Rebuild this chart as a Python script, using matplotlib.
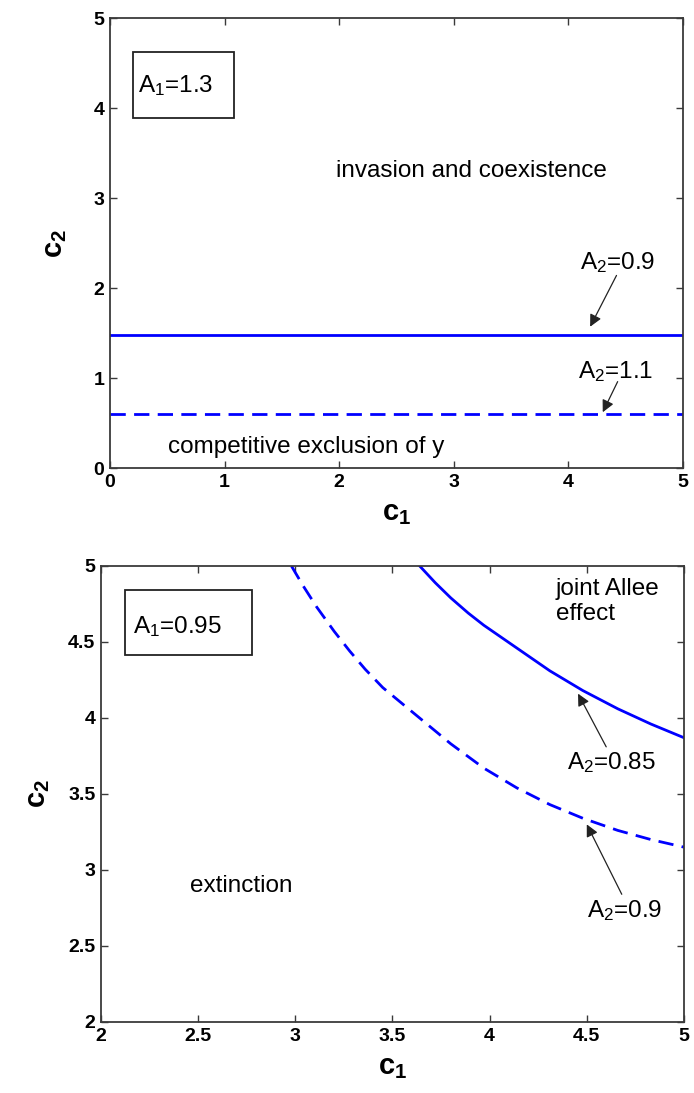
import numpy as np
import matplotlib
matplotlib.use('Agg')
import matplotlib.pyplot as plt
from matplotlib.patches import Rectangle

plt.rcParams['font.family'] = ['Liberation Sans', 'DejaVu Sans']
plt.rcParams['mathtext.fontset'] = 'custom'
plt.rcParams['mathtext.rm'] = 'Liberation Sans'
plt.rcParams['mathtext.it'] = 'Liberation Sans:italic'
plt.rcParams['mathtext.bf'] = 'Liberation Sans:bold'

# upper panel, A1 = 1.3: thresholds are flat in c1
top_c1 = [0.0, 5.0]
top_a2_09 = [1.48, 1.48]
top_a2_11 = [0.60, 0.60]

# lower panel, A1 = 0.95: boundary curves read along c1
low_a2_085_c1 = [3.64, 3.72, 3.80, 3.89, 3.97, 4.14, 4.31, 4.48, 4.66, 4.83, 5.0]
low_a2_085_c2 = [5.00, 4.89, 4.79, 4.69, 4.61, 4.46, 4.31, 4.18, 4.06, 3.96, 3.87]
low_a2_09_c1 = [2.98, 3.04, 3.11, 3.20, 3.28, 3.36, 3.45, 3.63, 3.80, 3.97,
                4.14, 4.31, 4.48, 4.66, 4.83, 5.0]
low_a2_09_c2 = [5.00, 4.87, 4.73, 4.57, 4.44, 4.32, 4.20, 4.01, 3.83, 3.67,
                3.54, 3.43, 3.34, 3.26, 3.20, 3.15]

top_ticks = [0, 1, 2, 3, 4, 5]
low_ticks = [2, 2.5, 3, 3.5, 4, 4.5, 5]
low_ticklabels = ['2', '2.5', '3', '3.5', '4', '4.5', '5']

blue = '#0000ff'
spine_col = '#3a3a3a'
txt_size = 17.5
arrow_kw = dict(arrowstyle='-|>', color='#222222', lw=0.9,
                mutation_scale=18, shrinkA=0, shrinkB=0)

fig = plt.figure(figsize=(6.94, 10.93), dpi=100)
ax1 = fig.add_axes([0.1585, 0.5718, 0.8256, 0.4117])
ax2 = fig.add_axes([0.1455, 0.0650, 0.8400, 0.4172])


def style_axes(ax):
    for s in ax.spines.values():
        s.set_color(spine_col)
        s.set_linewidth(1.3)
    ax.tick_params(direction='in', length=5, width=1, color=spine_col,
                   top=True, right=True, labelsize=14, pad=4)
    for lab in ax.get_xticklabels() + ax.get_yticklabels():
        lab.set_fontweight('bold')
    ax.set_xlabel(r'$\mathbf{c}_{\mathbf{1}}$', fontsize=21, labelpad=6)


# ---- upper panel
ax1.plot(top_c1, top_a2_09, color=blue, lw=2)
ax1.plot(top_c1, top_a2_11, color=blue, lw=2, dashes=(5.5, 3))
ax1.set_xlim(0, 5)
ax1.set_ylim(0, 5)
ax1.set_xticks(top_ticks)
ax1.set_yticks(top_ticks)
style_axes(ax1)
ax1.set_ylabel(r'$\mathbf{c}_{\mathbf{2}}$', fontsize=21, labelpad=18)

ax1.add_patch(Rectangle((0.040, 0.778), 0.176, 0.146, transform=ax1.transAxes,
                        fill=False, ec='#222222', lw=1.3))
ax1.text(0.049, 0.849, 'A$_1$=1.3', transform=ax1.transAxes,
         fontsize=txt_size, va='center', ha='left')
ax1.text(1.97, 3.23, 'invasion and coexistence', fontsize=txt_size, va='baseline')
ax1.text(0.51, 0.17, 'competitive exclusion of y', fontsize=txt_size, va='baseline')
ax1.text(4.10, 2.21, 'A$_2$=0.9', fontsize=txt_size, va='baseline')
ax1.text(4.08, 1.00, 'A$_2$=1.1', fontsize=txt_size, va='baseline')
ax1.annotate('', xy=(4.19, 1.57), xytext=(4.42, 2.14), arrowprops=arrow_kw)
ax1.annotate('', xy=(4.30, 0.62), xytext=(4.43, 0.96), arrowprops=arrow_kw)

# ---- lower panel
ax2.plot(low_a2_085_c1, low_a2_085_c2, color=blue, lw=2)
ax2.plot(low_a2_09_c1, low_a2_09_c2, color=blue, lw=2, dashes=(5.5, 3))
ax2.set_xlim(2, 5)
ax2.set_ylim(2, 5)
ax2.set_xticks(low_ticks, low_ticklabels)
ax2.set_yticks(low_ticks, low_ticklabels)
style_axes(ax2)
ax2.set_ylabel(r'$\mathbf{c}_{\mathbf{2}}$', fontsize=21, labelpad=12)

ax2.add_patch(Rectangle((0.041, 0.805), 0.218, 0.142, transform=ax2.transAxes,
                        fill=False, ec='#222222', lw=1.3))
ax2.text(0.055, 0.868, 'A$_1$=0.95', transform=ax2.transAxes,
         fontsize=txt_size, va='center', ha='left')
ax2.text(4.34, 4.645, 'joint Allee\neffect', fontsize=txt_size, va='baseline',
         linespacing=1.15)
ax2.text(2.46, 2.855, 'extinction', fontsize=txt_size, va='baseline')
ax2.text(4.40, 3.665, 'A$_2$=0.85', fontsize=txt_size, va='baseline')
ax2.text(4.50, 2.69, 'A$_2$=0.9', fontsize=txt_size, va='baseline')
ax2.annotate('', xy=(4.455, 4.16), xytext=(4.60, 3.81), arrowprops=arrow_kw)
ax2.annotate('', xy=(4.50, 3.30), xytext=(4.68, 2.84), arrowprops=arrow_kw)

fig.savefig('out.png', dpi=100)
